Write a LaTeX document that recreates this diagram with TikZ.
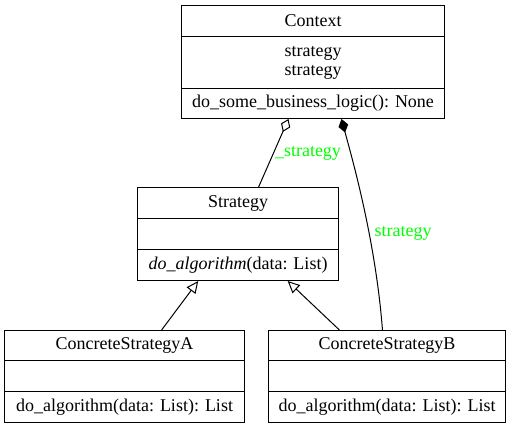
\documentclass[tikz,border=0pt]{standalone}
\usepackage{fontspec}
\setmainfont{Liberation Serif}
\usetikzlibrary{arrows.meta,calc}
\definecolor{lbl}{RGB}{0,255,0}
\tikzset{
  cell/.style={draw, line width=1pt, inner sep=0pt, anchor=north west, align=center,
    font=\fontsize{18}{19}\selectfont},
  conn/.style={line width=1pt},
  inh/.style={conn, -{Triangle[open, length=12pt, width=11pt, line width=1pt]}},
  agg/.style={conn, -{Diamond[open, length=14pt, width=10pt, line width=1pt]}},
  comp/.style={conn, -{Diamond[length=14pt, width=10pt]}},
  lab/.style={text=lbl, font=\fontsize{18}{19}\selectfont, inner sep=0pt}
}
\begin{document}
\begin{tikzpicture}[x=1pt,y=-1pt]
\useasboundingbox[fill=white] (0,0) rectangle (512,428);
% Context
\node[cell, minimum width=263pt, minimum height=31pt] (ch) at (181,5) {Context};
\node[cell, minimum width=263pt, minimum height=52pt] (ca) at (181,36) {strategy\\strategy};
\node[cell, minimum width=263pt, minimum height=30pt] (cm) at (181,88) {do\_some\_business\_logic(): None};
% Strategy
\node[cell, minimum width=201pt, minimum height=31pt] (sh) at (137,187) {Strategy};
\node[cell, minimum width=201pt, minimum height=31pt] (sa) at (137,218) {};
\node[cell, minimum width=201pt, minimum height=31pt] (sm) at (137,249) {\textit{do\_algorithm}(data: List)};
% ConcreteStrategyA
\node[cell, minimum width=240pt, minimum height=30pt] (ah) at (4,330) {ConcreteStrategyA};
\node[cell, minimum width=240pt, minimum height=31pt] (aa) at (4,360) {};
\node[cell, minimum width=240pt, minimum height=31pt] (am) at (4,391) {do\_algorithm(data: List): List};
% ConcreteStrategyB
\node[cell, minimum width=237pt, minimum height=30pt] (bh) at (268,330) {ConcreteStrategyB};
\node[cell, minimum width=237pt, minimum height=31pt] (ba) at (268,360) {};
\node[cell, minimum width=237pt, minimum height=31pt] (bm) at (268,391) {do\_algorithm(data: List): List};
% connectors
\draw[agg] ($(sh.north west)!0.602!(sh.north east)$) -- ($(cm.south west)!0.407!(cm.south east)$);
\draw[comp] ($(bh.north west)!0.481!(bh.north east)$) .. controls +(-7,-90) and +(11,41) .. ($(cm.south west)!0.608!(cm.south east)$);
\draw[inh] ($(ah.north west)!0.654!(ah.north east)$) -- ($(sm.south west)!0.303!(sm.south east)$);
\draw[inh] ($(bh.north west)!0.30!(bh.north east)$) -- ($(sm.south west)!0.746!(sm.south east)$);
% labels
\node[lab] (l1) at (308,153) {\_strategy};
\node[lab] (l2) at (403,233) {strategy};
\end{tikzpicture}
\end{document}
